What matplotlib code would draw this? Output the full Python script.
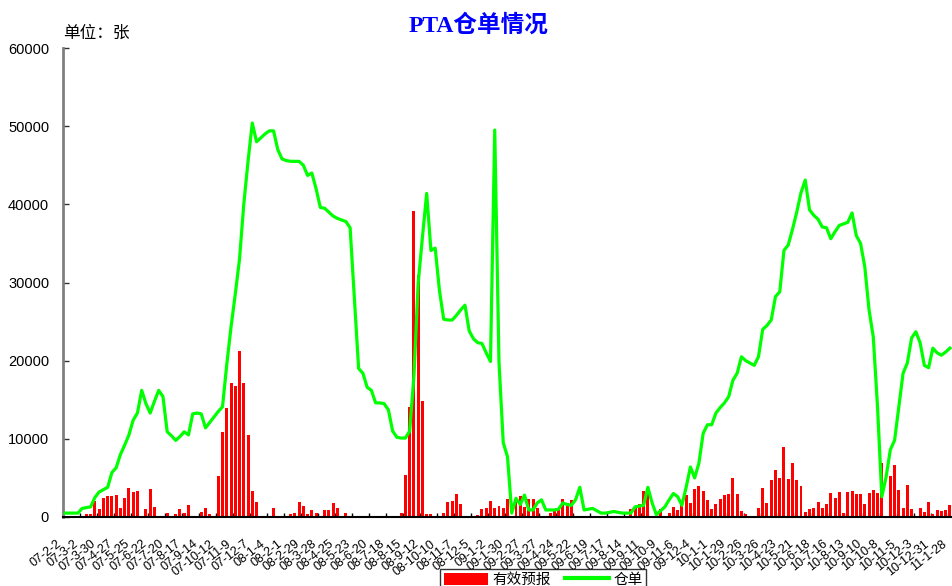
import numpy as np
import matplotlib
matplotlib.use("Agg")
import matplotlib.pyplot as plt
import matplotlib.transforms as mtransforms
from matplotlib.patches import Patch
from matplotlib.lines import Line2D

plt.rcParams['font.family'] = ['Liberation Sans', 'Noto Sans CJK SC', 'DejaVu Sans']

# weekly tick labels (every 4th week shown)
tick_labels = ["07-2-2", "07-3-2", "07-3-30", "07-4-27", "07-5-25", "07-6-22", "07-7-20",
               "07-8-17", "07-9-14", "07-10-12", "07-11-9", "07-12-7",
               "08-1-4", "08-2-1", "08-2-29", "08-3-28", "08-4-25", "08-5-23", "08-6-20",
               "08-7-18", "08-8-15", "08-9-12", "08-10-10", "08-11-7", "08-12-5",
               "09-1-2", "09-1-30", "09-2-27", "09-3-27", "09-4-24", "09-5-22", "09-6-19",
               "09-7-17", "09-8-14", "09-9-11", "09-10-9", "09-11-6", "09-12-4",
               "10-1-1", "10-1-29", "10-2-26", "10-3-26", "10-4-23", "10-5-21", "10-6-18",
               "10-7-16", "10-8-13", "10-9-10", "10-10-8", "10-11-5", "10-12-3", "10-12-31",
               "11-1-28"]

# 有效预报 (bars)
forecast = [
    0, 0, 0, 0, 0, 380, 380, 2100, 1000, 2400,
    2700, 2700, 2850, 1150, 2400, 3700, 3150, 3300, 100, 1000,
    3600, 1300, 0, 0, 550, 0, 380, 1000, 500, 1500,
    0, 100, 700, 1100, 430, 0, 5300, 10900, 13900, 17100,
    16800, 21200, 17100, 10500, 3300, 1900, 0, 0, 0, 1100,
    0, 0, 0, 340, 550, 1900, 1400, 430, 900, 470,
    0, 900, 900, 1750, 1200, 0, 470, 0, 0, 0,
    0, 0, 0, 0, 0, 0, 0, 0, 0, 470,
    5400, 14100, 39200, 31000, 14900, 430, 340, 0, 0, 550,
    1900, 2050, 2900, 1600, 0, 0, 0, 200, 980, 1190,
    2050, 1190, 1400, 1200, 2340, 0, 2550, 2700, 1300, 2340,
    2340, 1200, 0, 0, 550, 770, 980, 2260, 1830, 2130,
    0, 0, 0, 0, 0, 0, 0, 0, 0, 0,
    0, 0, 0, 980, 1200, 1700, 3320, 2900, 0, 0,
    1070, 0, 550, 1280, 850, 1620, 2770, 1830, 3620, 3960,
    3320, 2130, 1070, 1700, 2340, 2770, 2980, 4940, 2900, 770,
    340, 0, 0, 1200, 3750, 1750, 4690, 5960, 4940, 8990,
    4810, 6860, 4690, 3960, 640, 980, 1200, 1920, 1200, 1620,
    3020, 2470, 3240, 550, 3240, 3320, 2900, 2900, 1620, 3070,
    3450, 3020, 6940, 0, 5300, 6650, 3450, 1200, 4050, 1070,
    130, 1200, 640, 1920, 340, 900, 770, 900, 1490,
]

# 仓单 (line)
warrants = [
    500, 500, 500, 500, 1100, 1200, 1300, 2500, 3200, 3500,
    3800, 5700, 6300, 8000, 9200, 10500, 12400, 13300, 16200, 14500,
    13300, 14800, 16200, 15400, 10900, 10400, 9800, 10300, 10900, 10500,
    13200, 13300, 13200, 11400, 12100, 12800, 13500, 14100, 19500, 24300,
    28500, 33000, 40000, 45500, 50400, 48000, 48500, 49000, 49400, 49400,
    47000, 45800, 45600, 45500, 45500, 45500, 45000, 43700, 44000, 42000,
    39600, 39500, 39000, 38500, 38200, 38000, 37800, 37000, 28000, 19000,
    18400, 16600, 16200, 14600, 14600, 14500, 13700, 11000, 10200, 10100,
    10100, 11000, 18000, 29900, 35800, 41400, 34100, 34400, 29000, 25300,
    25200, 25200, 25800, 26500, 27100, 23800, 22800, 22300, 22200, 21000,
    19900, 49500, 19800, 9500, 7700, 500, 2400, 1600, 2800, 900,
    900, 1800, 2200, 900, 900, 900, 1000, 1800, 1600, 1500,
    2200, 3800, 900, 1000, 1100, 800, 500, 500, 600, 700,
    600, 500, 500, 500, 1300, 1400, 1500, 3800, 1800, 300,
    800, 1300, 2200, 3000, 2600, 1500, 3800, 6400, 5000, 6900,
    10700, 11800, 11800, 13300, 14000, 14600, 15400, 17500, 18400, 20500,
    20000, 19700, 19400, 20500, 24000, 24500, 25200, 28200, 28800, 34100,
    34800, 36800, 39000, 41500, 43100, 39300, 38600, 38100, 37100, 37000,
    35600, 36500, 37300, 37500, 37700, 38900, 36000, 35000, 32000, 26500,
    23000, 14000, 2600, 5100, 8600, 9800, 14100, 18400, 19700, 22900,
    23700, 22300, 19400, 19100, 21600, 21000, 20700, 21100, 21600,
]

x = np.arange(len(warrants))

fig = plt.figure(figsize=(9.53, 5.86), dpi=100)
ax = fig.add_axes([63 / 953, 1 - 517 / 586, 889 / 953, 469 / 586])

ax.bar(x, forecast, width=0.7, color='#ff0000', edgecolor='none', zorder=2)
ax.plot(x, warrants, color='#00ff00', linewidth=2.3, zorder=3)

ax.set_yticks(np.arange(0, 60001, 10000))
ax.tick_params(axis='y', direction='in', length=4, width=1, labelsize=10.5, pad=10,
               color='#333333')

# labels every 4 weeks, small tick marks between the groups
ax.set_xticks(np.arange(len(tick_labels)) * 4.0 - 0.4)
ax.set_xticklabels(tick_labels, rotation=38, ha='right', va='top',
                   rotation_mode='anchor', fontsize=9)
ax.tick_params(axis='x', which='major', length=0, pad=15)
ax.set_xticks(np.arange(3.5, len(warrants), 4), minor=True)
ax.tick_params(axis='x', which='minor', direction='in', length=3, width=1, color='black')

# nudge the rotated labels a little to the left, as in the original
shift = mtransforms.ScaledTranslation(-7 / 100, 0, fig.dpi_scale_trans)
for lbl in ax.get_xticklabels():
    lbl.set_transform(lbl.get_transform() + shift)

ax.set_xlim(-0.5, len(warrants) - 0.5)
ax.set_ylim(0, 60000)

for s in ['top', 'right']:
    ax.spines[s].set_visible(False)
ax.spines['left'].set_color('#808080')
ax.spines['left'].set_linewidth(2)
ax.spines['bottom'].set_color('black')
ax.spines['bottom'].set_linewidth(1.5)

fig.text(479 / 953, 1 - 25 / 586, "PTA仓单情况", color='#0000ff', fontsize=17,
         fontweight='bold', ha='center', va='center',
         family=['Liberation Serif', 'Noto Sans CJK SC'])
fig.text(63 / 953, 1 - 33 / 586, "单位：张", fontsize=12, ha='left', va='center',
         family=['Noto Sans CJK SC', 'DejaVu Sans'])

handles = [Patch(facecolor='#ff0000', edgecolor='none'),
           Line2D([0], [0], color='#00ff00', linewidth=3)]
leg = fig.legend(handles, ["有效预报", "仓单"], loc='upper left',
                 bbox_to_anchor=(433 / 953, 1 - 562 / 586), ncol=2,
                 frameon=True, fancybox=False, edgecolor='black',
                 handlelength=3, handleheight=0.9, borderpad=0.25,
                 columnspacing=1.0, handletextpad=0.3,
                 prop={'family': ['Noto Sans CJK SC', 'DejaVu Sans'], 'size': 10.5})
leg.get_frame().set_linewidth(1)

fig.savefig("out.png", dpi=100)
